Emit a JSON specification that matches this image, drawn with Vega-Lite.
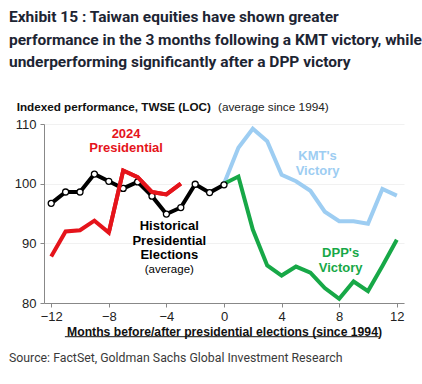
{
  "$schema": "https://vega.github.io/schema/vega-lite/v6.json",
  "width": 360,
  "height": 179,
  "autosize": {"type": "none"},
  "padding": {"left": 44, "top": 124, "right": 18, "bottom": 81},
  "background": "white",
  "title": {
    "text": ["Exhibit 15 : Taiwan equities have shown greater", "performance in the 3 months following a KMT victory, while", "underperforming significantly after a DPP victory"],
    "anchor": "start",
    "frame": "group",
    "dx": -35,
    "offset": 31,
    "font": "Roboto",
    "fontSize": 15.5,
    "fontWeight": "bold",
    "lineHeight": 22.5,
    "color": "#1d2533"
  },
  "config": {
    "view": {"stroke": null},
    "font": "Liberation Sans",
    "axis": {"labelFont": "Liberation Sans", "labelColor": "#222", "labelFontSize": 13, "domainColor": "#888", "tickColor": "#888", "tickSize": 4}
  },
  "datasets": {
    "series": [
      {"series": "Historical", "month": -12, "value": 96.7},
      {"series": "Historical", "month": -11, "value": 98.6},
      {"series": "Historical", "month": -10, "value": 98.6},
      {"series": "Historical", "month": -9, "value": 101.6},
      {"series": "Historical", "month": -8, "value": 100.4},
      {"series": "Historical", "month": -7, "value": 99.2},
      {"series": "Historical", "month": -6, "value": 100.3},
      {"series": "Historical", "month": -5, "value": 97.9},
      {"series": "Historical", "month": -4, "value": 94.9},
      {"series": "Historical", "month": -3, "value": 96.0},
      {"series": "Historical", "month": -2, "value": 99.9},
      {"series": "Historical", "month": -1, "value": 98.5},
      {"series": "Historical", "month": 0, "value": 99.8},
      {"series": "2024", "month": -12, "value": 87.8},
      {"series": "2024", "month": -11, "value": 92.0},
      {"series": "2024", "month": -10, "value": 92.2},
      {"series": "2024", "month": -9, "value": 93.8},
      {"series": "2024", "month": -8, "value": 91.8},
      {"series": "2024", "month": -7, "value": 102.2},
      {"series": "2024", "month": -6, "value": 101.1},
      {"series": "2024", "month": -5, "value": 98.6},
      {"series": "2024", "month": -4, "value": 98.2},
      {"series": "2024", "month": -3, "value": 100.0},
      {"series": "KMT", "month": 0, "value": 100.0},
      {"series": "KMT", "month": 1, "value": 106.0},
      {"series": "KMT", "month": 2, "value": 109.2},
      {"series": "KMT", "month": 3, "value": 107.1},
      {"series": "KMT", "month": 4, "value": 101.5},
      {"series": "KMT", "month": 5, "value": 100.4},
      {"series": "KMT", "month": 6, "value": 98.8},
      {"series": "KMT", "month": 7, "value": 95.3},
      {"series": "KMT", "month": 8, "value": 93.7},
      {"series": "KMT", "month": 9, "value": 93.7},
      {"series": "KMT", "month": 10, "value": 93.3},
      {"series": "KMT", "month": 11, "value": 99.1},
      {"series": "KMT", "month": 12, "value": 98.0},
      {"series": "DPP", "month": 0, "value": 100.0},
      {"series": "DPP", "month": 1, "value": 101.2},
      {"series": "DPP", "month": 2, "value": 92.3},
      {"series": "DPP", "month": 3, "value": 86.3},
      {"series": "DPP", "month": 4, "value": 84.6},
      {"series": "DPP", "month": 5, "value": 86.1},
      {"series": "DPP", "month": 6, "value": 85.1},
      {"series": "DPP", "month": 7, "value": 82.5},
      {"series": "DPP", "month": 8, "value": 80.7},
      {"series": "DPP", "month": 9, "value": 83.6},
      {"series": "DPP", "month": 10, "value": 82.0},
      {"series": "DPP", "month": 11, "value": 86.2},
      {"series": "DPP", "month": 12, "value": 90.6}
    ],
    "labels": [
      {"series": "2024", "month": -6.8, "value": 108.4, "label": "2024"},
      {"series": "2024", "month": -6.8, "value": 105.95, "label": "Presidential"},
      {"series": "Historical", "month": -3.8, "value": 92.85, "label": "Historical"},
      {"series": "Historical", "month": -3.8, "value": 90.4, "label": "Presidential"},
      {"series": "Historical", "month": -3.8, "value": 88.0, "label": "Elections"},
      {"series": "KMT", "month": 6.5, "value": 104.6, "label": "KMT's"},
      {"series": "KMT", "month": 6.5, "value": 102.2, "label": "Victory"},
      {"series": "DPP", "month": 8.1, "value": 88.3, "label": "DPP's"},
      {"series": "DPP", "month": 8.1, "value": 85.9, "label": "Victory"}
    ]
  },
  "layer": [
    {
      "mark": {"type": "rule", "color": "#000", "strokeWidth": 1.5},
      "encoding": {
        "x": {"datum": -12, "type": "quantitative", "scale": {"domain": [-12.5, 12.5], "nice": false}, "axis": {
          "values": [-12,-11,-10,-9,-8,-7,-6,-5,-4,-3,-2,-1,0,1,2,3,4,5,6,7,8,9,10,11,12],
          "labelExpr": "datum.value % 2 == 0 ? datum.label : ''",
          "grid": false,
          "title": "Months  before/after presidential  elections (since  1994)",
          "titleFont": "Liberation Sans", "titleFontSize": 12.2, "titleFontWeight": "bold", "titleColor": "#111", "titlePadding": 2, "labelPadding": 3
        }},
        "x2": {"datum": 12},
        "y": {"datum": 100, "type": "quantitative", "scale": {"domain": [80, 110], "nice": false}, "axis": {
          "values": [80, 85, 90, 95, 100, 105, 110],
          "title": null, "grid": true, "gridColor": "#f1f1f1", "labelPadding": 4
        }}
      }
    },
    {
      "mark": {"type": "rule", "color": "#000", "strokeWidth": 1, "strokeDash": [3, 2]},
      "encoding": {"x": {"datum": 0, "type": "quantitative"}, "y": {"datum": 110, "type": "quantitative"}, "y2": {"datum": 80}}
    },
    {
      "data": {"name": "series"},
      "mark": {"type": "line", "strokeWidth": 4, "strokeJoin": "miter"},
      "encoding": {
        "x": {"field": "month", "type": "quantitative"},
        "y": {"field": "value", "type": "quantitative"},
        "color": {"field": "series", "type": "nominal", "scale": {"domain": ["KMT", "DPP", "Historical", "2024"], "range": ["#9dcdf2", "#17a847", "#000000", "#e5141b"]}, "legend": null},
        "order": {"field": "month"}
      }
    },
    {
      "data": {"name": "series"},
      "transform": [{"filter": "datum.series == 'Historical'"}],
      "mark": {"type": "point", "filled": true, "fill": "white", "stroke": "black", "strokeWidth": 1.3, "size": 36, "opacity": 1},
      "encoding": {
        "x": {"field": "month", "type": "quantitative"},
        "y": {"field": "value", "type": "quantitative"}
      }
    },
    {
      "data": {"name": "series"},
      "transform": [{"filter": "datum.series == '2024' && datum.month >= -8"}],
      "mark": {"type": "line", "strokeWidth": 4, "color": "#e5141b"},
      "encoding": {
        "x": {"field": "month", "type": "quantitative"},
        "y": {"field": "value", "type": "quantitative"}
      }
    },
    {
      "data": {"name": "labels"},
      "mark": {"type": "text", "fontWeight": "bold", "fontSize": 13, "font": "Liberation Sans", "align": "center", "baseline": "middle"},
      "encoding": {
        "x": {"field": "month", "type": "quantitative"},
        "y": {"field": "value", "type": "quantitative"},
        "text": {"field": "label"},
        "color": {"field": "series", "type": "nominal", "scale": {"domain": ["KMT", "DPP", "Historical", "2024"], "range": ["#8cc4f0", "#17a847", "#000000", "#e5141b"]}, "legend": null}
      }
    },
    {
      "data": {"values": [{"month": -3.8, "value": 85.6, "label": "(average)"}]},
      "mark": {"type": "text", "fontSize": 11.5, "font": "Liberation Sans", "color": "#000", "align": "center", "baseline": "middle"},
      "encoding": {"x": {"field": "month", "type": "quantitative"}, "y": {"field": "value", "type": "quantitative"}, "text": {"field": "label"}}
    },
    {
      "data": {"values": [{"month": -14.4, "value": 112.9, "label": "Indexed performance, TWSE (LOC)"}]},
      "mark": {"type": "text", "fontSize": 11.7, "fontWeight": "bold", "font": "Liberation Sans", "color": "#111", "align": "left", "baseline": "middle"},
      "encoding": {"x": {"field": "month", "type": "quantitative"}, "y": {"field": "value", "type": "quantitative"}, "text": {"field": "label"}}
    },
    {
      "data": {"values": [{"month": -0.42, "value": 112.9, "label": "(average since 1994)"}]},
      "mark": {"type": "text", "fontSize": 11.8, "font": "Liberation Sans", "color": "#222", "align": "left", "baseline": "middle"},
      "encoding": {"x": {"field": "month", "type": "quantitative"}, "y": {"field": "value", "type": "quantitative"}, "text": {"field": "label"}}
    },
    {
      "data": {"values": [{"start": -11.05, "end": 10.75, "value": 74.35}]},
      "mark": {"type": "rule", "color": "#111", "strokeWidth": 1},
      "encoding": {"x": {"field": "start", "type": "quantitative"}, "x2": {"field": "end"}, "y": {"field": "value", "type": "quantitative"}}
    },
    {
      "data": {"values": [{"month": -14.93, "value": 70.85, "label": "Source: FactSet, Goldman Sachs Global Investment Research"}]},
      "mark": {"type": "text", "fontSize": 12.3, "font": "Roboto", "color": "#3a3a3a", "align": "left", "baseline": "middle"},
      "encoding": {"x": {"field": "month", "type": "quantitative"}, "y": {"field": "value", "type": "quantitative"}, "text": {"field": "label"}}
    }
  ]
}
